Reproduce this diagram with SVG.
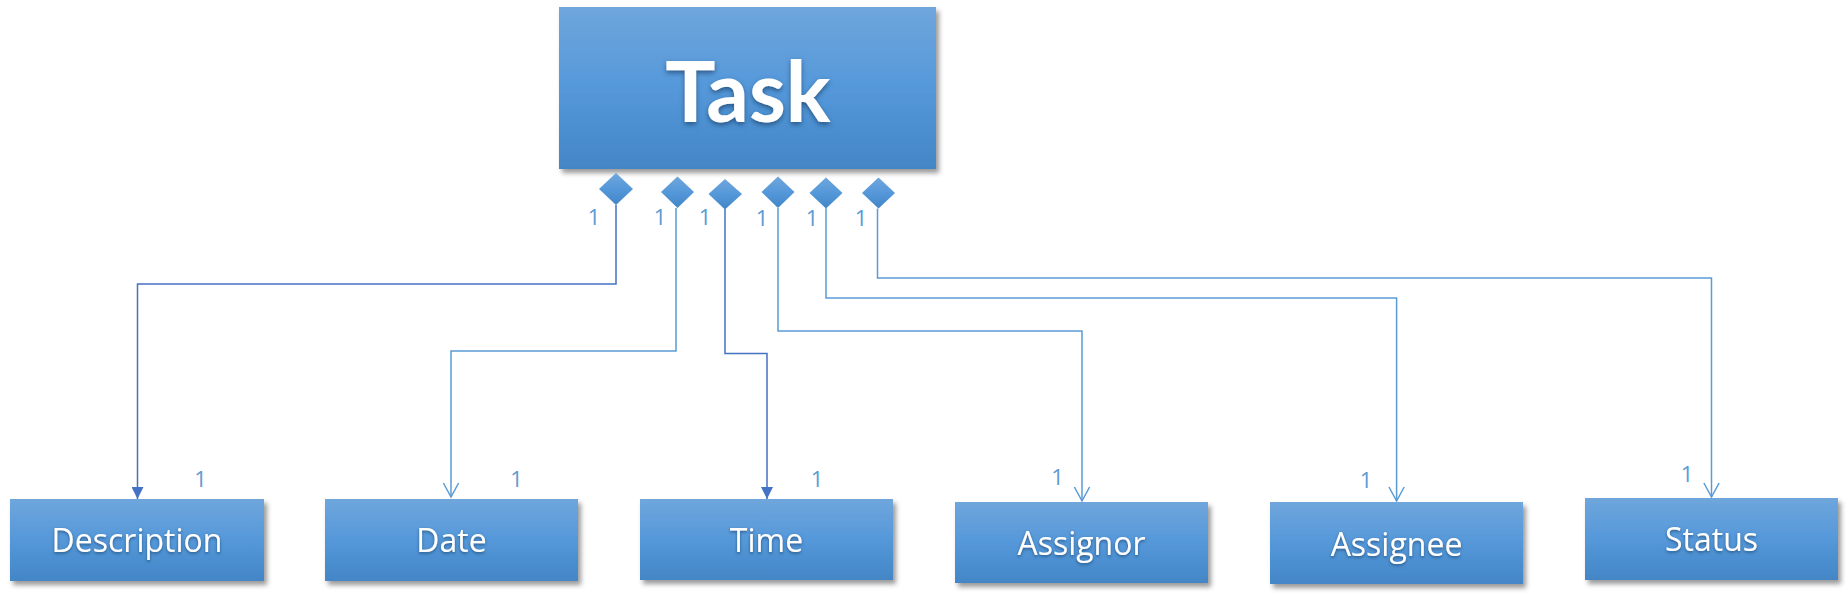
<svg xmlns="http://www.w3.org/2000/svg" width="1848" height="597" viewBox="0 0 1848 597">
  <style>
    .box { fill: url(#boxGrad); filter: url(#boxShadow); }
    .dia { fill: url(#diaGrad); }
    .label { font-family: "Open Sans", "Liberation Sans", sans-serif; font-size: 32px; fill: #FFFFFF; text-anchor: middle; filter: url(#textShadow); }
    .title { font-family: Lato, "Open Sans", sans-serif; font-weight: bold; font-size: 84px; fill: #FFFFFF; text-anchor: middle; filter: url(#titleShadow); }
    .mult { font-family: "Open Sans", "Liberation Sans", sans-serif; font-size: 22px; fill: #5B9BD5; text-anchor: middle; }
    .dark { fill: none; stroke: #4472C4; stroke-width: 1.5; marker-end: url(#filled); }
    .light { fill: none; stroke: #5B9BD5; stroke-width: 1.5; marker-end: url(#open); }
  </style>
  <defs>
    <linearGradient id="boxGrad" x1="0" y1="0" x2="0" y2="1">
      <stop offset="0" stop-color="#6FA6DC"/>
      <stop offset="0.5" stop-color="#5598DA"/>
      <stop offset="1" stop-color="#4386C6"/>
    </linearGradient>
    <linearGradient id="diaGrad" x1="0" y1="0" x2="0" y2="1">
      <stop offset="0" stop-color="#6FA6DC"/>
      <stop offset="0.5" stop-color="#5598DA"/>
      <stop offset="1" stop-color="#4386C6"/>
    </linearGradient>
    <filter id="boxShadow" x="-10%" y="-10%" width="120%" height="130%">
      <feDropShadow dx="3" dy="4" stdDeviation="2.5" flood-color="#000000" flood-opacity="0.4"/>
    </filter>
    <filter id="textShadow" x="-10%" y="-20%" width="120%" height="150%">
      <feDropShadow dx="0" dy="1.5" stdDeviation="1.5" flood-color="#1F4E79" flood-opacity="0.85"/>
    </filter>
    <filter id="titleShadow" x="-10%" y="-20%" width="120%" height="150%">
      <feDropShadow dx="0" dy="2.5" stdDeviation="2.5" flood-color="#1F4E79" flood-opacity="0.85"/>
    </filter>
    <marker id="filled" markerUnits="userSpaceOnUse" markerWidth="12" markerHeight="12" viewBox="0 0 12 12" refX="12" refY="6" orient="auto">
      <path d="M0,0 L12,6 L0,12 Z" fill="#4472C4"/>
    </marker>
    <marker id="open" markerUnits="userSpaceOnUse" markerWidth="18" markerHeight="20" viewBox="-2 -2 18 20" refX="14" refY="7.6" orient="auto">
      <path d="M0,0 L14,7.6 L0,15.2" fill="none" stroke="#5B9BD5" stroke-width="1.5"/>
    </marker>
  </defs>
  <rect width="1848" height="597" fill="#FFFFFF"/>

  <g id="connectors">
    <path class="dark" d="M616,205 V284 H137.5 V499"/>
    <path class="light" d="M676,208 V351 H451 V497"/>
    <path class="dark" d="M725,209 V353.6 H767 V499"/>
    <path class="light" d="M778,208 V331 H1082 V501"/>
    <path class="light" d="M826,208 V298 H1396.6 V501"/>
    <path class="light" d="M877.5,208.5 V278 H1711.5 V497"/>
  </g>

  <g id="task">
    <rect class="box" x="559" y="7" width="377" height="162"/>
    <text class="title" x="748" y="122">Task</text>
  </g>

  <g id="diamonds">
    <polygon class="dia" points="616,173 633,189 616,205 599,189"/>
    <polygon class="dia" points="677.5,176.5 694,192 677.5,208 661,192"/>
    <polygon class="dia" points="725,179 742,194 725,209.5 708.5,194"/>
    <polygon class="dia" points="778,176.5 794.5,192 778,208 761.5,192"/>
    <polygon class="dia" points="826,177.5 842.5,193 826,208.5 809.5,193"/>
    <polygon class="dia" points="878.5,177.5 895,193 878.5,208.5 862,193"/>
  </g>

  <g id="multiplicities">
    <text class="mult" x="594" y="225">1</text>
    <text class="mult" x="660" y="225">1</text>
    <text class="mult" x="705" y="225">1</text>
    <text class="mult" x="762" y="226">1</text>
    <text class="mult" x="812" y="226">1</text>
    <text class="mult" x="861" y="226">1</text>
    <text class="mult" x="200.5" y="487">1</text>
    <text class="mult" x="516.6" y="487">1</text>
    <text class="mult" x="817" y="487">1</text>
    <text class="mult" x="1057.6" y="485">1</text>
    <text class="mult" x="1366" y="487.5">1</text>
    <text class="mult" x="1687" y="481.5">1</text>
  </g>

  <g id="description">
    <rect class="box" x="10" y="499" width="254" height="82"/>
    <text class="label" x="137" y="552">Description</text>
  </g>
  <g id="date">
    <rect class="box" x="325" y="499" width="253" height="82"/>
    <text class="label" x="451.5" y="552">Date</text>
  </g>
  <g id="time">
    <rect class="box" x="640" y="499" width="253" height="81"/>
    <text class="label" x="766.5" y="552">Time</text>
  </g>
  <g id="assignor">
    <rect class="box" x="955" y="502" width="253" height="81"/>
    <text class="label" x="1081.5" y="555">Assignor</text>
  </g>
  <g id="assignee">
    <rect class="box" x="1270" y="502" width="253" height="82"/>
    <text class="label" x="1396.5" y="556">Assignee</text>
  </g>
  <g id="status">
    <rect class="box" x="1585" y="498" width="253" height="82"/>
    <text class="label" x="1711.5" y="551">Status</text>
  </g>
</svg>
